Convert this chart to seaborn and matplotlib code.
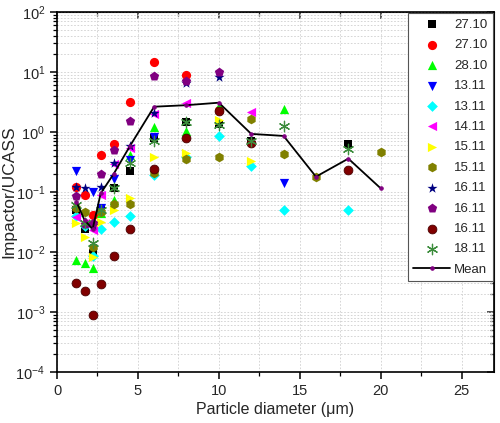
import numpy as np
import pandas as pd
import matplotlib
matplotlib.use("Agg")
import matplotlib.pyplot as plt
import seaborn as sns
from matplotlib.ticker import MultipleLocator, LogLocator, NullFormatter

nan = np.nan

# particle diameter bins (um)
diameters = [1.2, 1.7, 2.2, 2.7, 3.5, 4.5, 6, 8, 10, 12, 14, 16, 18, 20]

# Impactor/UCASS ratio per flight
r_2710a = [0.05, 0.024, 0.0095, 0.05, 0.118, 0.22, 0.8, 1.45, 1.36, 0.72, nan, nan, 0.62, nan]
r_2710b = [0.12, 0.089, 0.042, 0.42, 0.64, 3.16, 14.5, 8.9, 2.3, nan, nan, nan, nan, nan]
r_2810 = [0.0074, 0.0065, 0.0055, 0.045, 0.074, 0.41, 1.22, 1.05, 2.7, nan, 2.45, nan, nan, nan]
r_1311a = [0.226, nan, 0.10, 0.054, 0.165, 0.34, 0.84, nan, nan, nan, 0.143, nan, nan, nan]
r_1311b = [0.04, 0.027, 0.0085, 0.024, 0.032, 0.04, 0.19, 0.38, 0.86, 0.27, 0.05, nan, 0.05, nan]
r_1411 = [0.038, 0.03, 0.023, 0.089, 0.29, 0.55, 2.0, 3.0, nan, 2.13, nan, nan, nan, nan]
r_1511a = [0.030, 0.018, 0.0082, 0.032, 0.05, 0.08, 0.39, 0.45, 1.58, 0.33, nan, nan, nan, nan]
r_1511b = [0.055, 0.047, 0.012, 0.047, 0.062, 0.062, 0.21, 0.36, 0.39, 1.63, 0.43, 0.18, nan, 0.46]
r_1611a = [0.12, 0.115, 0.028, 0.12, 0.31, 0.59, 2.1, 6.6, 8.1, nan, nan, nan, nan, nan]
r_1611b = [0.087, 0.029, 0.03, 0.2, 0.5, 1.54, 8.7, 7.1, 10.1, nan, nan, nan, nan, nan]
r_1611c = [0.0031, 0.0022, 0.00089, 0.0029, 0.0086, 0.024, 0.24, 0.8, 2.2, 0.66, nan, nan, 0.23, nan]
r_1811 = [0.06, 0.03, 0.014, 0.05, 0.118, 0.3, 0.7, 1.45, 1.3, 0.7, 1.26, nan, 0.52, nan]
r_mean = [0.069, 0.034, 0.024, 0.095, 0.2, 0.58, 2.64, 2.8, 3.08, 0.93, 0.86, 0.18, 0.36, 0.115]

labels = ["27.10", "27.10", "28.10", "13.11", "13.11", "14.11",
          "15.11", "15.11", "16.11", "16.11", "16.11", "18.11"]
series = [r_2710a, r_2710b, r_2810, r_1311a, r_1311b, r_1411,
          r_1511a, r_1511b, r_1611a, r_1611b, r_1611c, r_1811]

markers = ["s", "o", "^", "v", "D", "<", ">", "h", "*", "p", "o", (6, 2, 0)]
colors = ["#000000", "#ff0000", "#00ff00", "#0000ff", "#00ffff", "#ff00ff",
          "#ffff00", "#808000", "#000080", "#800080", "#800000", "#3c8c3c"]
sizes = [28, 44, 44, 44, 30, 44, 44, 48, 58, 50, 40, 56]

sns.set_style("ticks")
plt.rcParams['font.family'] = ['Liberation Sans', 'DejaVu Sans']

fig = plt.figure(figsize=(5.0, 4.23), dpi=100)
ax = fig.add_axes([0.114, 0.1206, 0.874, 0.851])

for yv, lab, m, c, s in zip(series, labels, markers, colors, sizes):
    df = pd.DataFrame({"d": diameters, "r": yv}).dropna()
    if isinstance(m, tuple):
        sns.scatterplot(data=df, x="d", y="r", marker=m, color=c, s=s,
                        linewidth=0.9, edgecolor=c, label=lab, ax=ax, zorder=3)
    elif c == "#800000":
        # shaded sphere look
        sns.scatterplot(data=df, x="d", y="r", marker=m, color=c, s=s,
                        linewidth=0.6, edgecolor="#4a0000", label=lab, ax=ax, zorder=3)
    else:
        sns.scatterplot(data=df, x="d", y="r", marker=m, color=c, s=s,
                        linewidth=0, label=lab, ax=ax, zorder=3)

sns.lineplot(x=diameters, y=r_mean, color="black", linewidth=1.3,
             marker="o", markersize=2.5, markerfacecolor="#800080",
             markeredgecolor="#800080", label="Mean", ax=ax, zorder=4)

ax.set_yscale("log")
ax.set_xlim(0, 27)
ax.set_ylim(1e-4, 1e2)
ax.xaxis.set_major_locator(MultipleLocator(5))
ax.xaxis.set_minor_locator(MultipleLocator(2.5))
ax.yaxis.set_major_locator(LogLocator(base=10, numticks=10))
ax.yaxis.set_minor_locator(LogLocator(base=10, subs=np.arange(2, 10), numticks=20))
ax.yaxis.set_minor_formatter(NullFormatter())

ax.grid(True, which="both", color="#cfcfcf", linestyle=(0, (2, 2)), linewidth=0.6)
ax.set_axisbelow(True)

for sp in ax.spines.values():
    sp.set_linewidth(1.2)
    sp.set_color("black")
ax.tick_params(which="major", direction="out", length=5, width=1.1, labelsize=10.5, color="black")
ax.tick_params(which="minor", direction="out", length=3, width=0.9, color="black")

# mirrored inward ticks on top and right
top = ax.secondary_xaxis("top")
top.xaxis.set_major_locator(MultipleLocator(5))
top.xaxis.set_minor_locator(MultipleLocator(2.5))
top.tick_params(which="major", direction="in", length=5, width=1.1, labeltop=False)
top.tick_params(which="minor", direction="in", length=3, width=0.9)
right = ax.secondary_yaxis("right")
right.set_yscale("log")
right.yaxis.set_major_locator(LogLocator(base=10, numticks=10))
right.yaxis.set_minor_locator(LogLocator(base=10, subs=np.arange(2, 10), numticks=20))
right.tick_params(which="major", direction="in", length=5, width=1.1, labelright=False)
right.tick_params(which="minor", direction="in", length=3, width=0.9, labelright=False)
right.yaxis.set_minor_formatter(NullFormatter())

ax.set_xlabel("Particle diameter (μm)", fontsize=11.5, labelpad=3)
ax.set_ylabel("Impactor/UCASS", fontsize=12.5)
ax.yaxis.set_label_coords(-0.094, 0.5)

leg = ax.legend(loc="upper right", fontsize=9.5, frameon=True, fancybox=False,
                edgecolor="#555555", framealpha=1, handlelength=2.8,
                handletextpad=0.3, labelspacing=0.62, borderaxespad=0.1,
                borderpad=0.4)
leg.get_frame().set_linewidth(0.8)

fig.savefig("out.png", dpi=100)
